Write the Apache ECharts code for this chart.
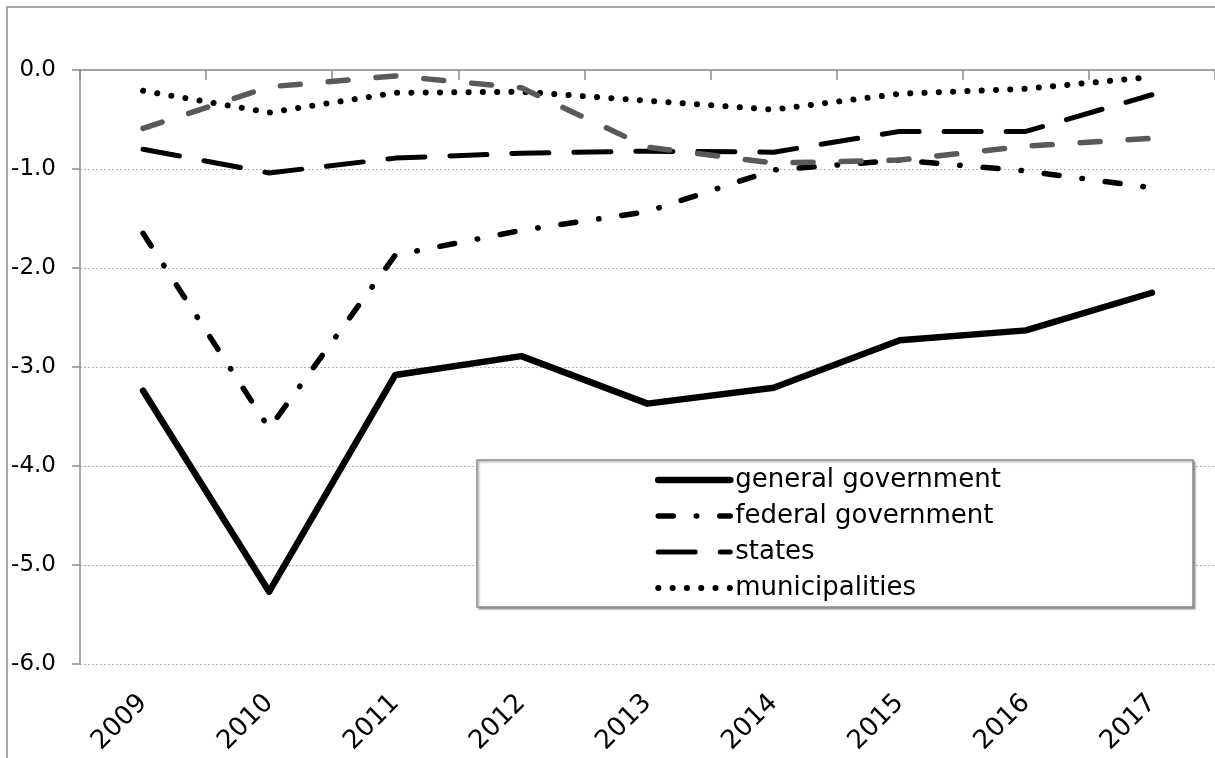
<!DOCTYPE html>
<html>
<head>
<meta charset="utf-8">
<title>Fiscal balance by level of government, 2009–2017</title>
<script src="https://cdn.jsdelivr.net/npm/echarts@6/dist/echarts.min.js"></script>
<style>
  html, body { margin: 0; padding: 0; background: #ffffff; }
  #chart { width: 1215px; height: 758px; }
</style>
</head>
<body>
<div id="chart"></div>
<script>
// Categories (years)
const years = ['2009', '2010', '2011', '2012', '2013', '2014', '2015', '2016', '2017'];

// Balances by level of government
const generalGovernment = [-3.24, -5.27, -3.08, -2.89, -3.37, -3.21, -2.73, -2.63, -2.25];
const federalGovernment = [-1.65, -3.62, -1.87, -1.62, -1.43, -1.01, -0.91, -1.02, -1.19];
const statesBalance     = [-0.80, -1.04, -0.89, -0.84, -0.82, -0.83, -0.62, -0.62, -0.25];
const municipalities    = [-0.21, -0.43, -0.23, -0.22, -0.31, -0.40, -0.24, -0.19, -0.07];
const socialSecurity    = [-0.59, -0.17, -0.06, -0.18, -0.78, -0.94, -0.91, -0.77, -0.69];

// Value axis range
const yMin = -6;
const yMax = 0;
const yStep = 1;

// Legend entries (the grey series is left out of the legend)
const legendNames = ['general government', 'federal government', 'states', 'municipalities'];

const FONT = 'DejaVu Sans';
const AXIS_GREY = '#8c8c8c';

const chart = echarts.init(document.getElementById('chart'));

function lineSeries(name, data, style) {
  return {
    name: name,
    type: 'line',
    data: data,
    xAxisIndex: 0,
    symbol: 'none',
    showSymbol: false,
    smooth: false,
    itemStyle: { color: style.color },
    lineStyle: Object.assign({ cap: 'round', join: 'round' }, style)
  };
}

chart.setOption({
  animation: false,
  backgroundColor: '#ffffff',
  grid: { left: 80, top: 70, width: 1137, height: 594, containLabel: false },
  xAxis: [
    {
      type: 'category',
      position: 'bottom',
      data: years,
      boundaryGap: true,
      axisLine: { show: false },
      axisTick: { show: false },
      axisLabel: {
        rotate: 45,
        margin: 35,
        color: '#000000',
        fontFamily: FONT,
        fontSize: 26
      },
      splitLine: { show: false }
    },
    {
      type: 'category',
      position: 'top',
      data: years,
      boundaryGap: true,
      axisLine: { show: true, onZero: false, lineStyle: { color: AXIS_GREY, width: 1.5 } },
      axisTick: { show: true, inside: true, length: 10, lineStyle: { color: AXIS_GREY, width: 1.5 } },
      axisLabel: { show: false },
      splitLine: { show: false }
    }
  ],
  yAxis: {
    type: 'value',
    min: yMin,
    max: yMax,
    interval: yStep,
    axisLine: { show: true, lineStyle: { color: AXIS_GREY, width: 1.5 } },
    axisTick: { show: true, inside: false, length: 8, lineStyle: { color: AXIS_GREY, width: 1.5 } },
    axisLabel: {
      margin: 24,
      color: '#000000',
      fontFamily: FONT,
      fontSize: 23,
      formatter: function (v) { return (Math.abs(v) < 1e-9 ? 0 : v).toFixed(1); }
    },
    splitLine: { show: true, lineStyle: { color: '#b4b4b4', width: 1, type: [2, 2] } }
  },
  legend: {
    data: legendNames,
    orient: 'vertical',
    left: 655,
    top: 467,
    padding: 0,
    itemWidth: 72,
    itemHeight: 14,
    itemGap: 10,
    z: 20,
    selectedMode: false,
    itemStyle: { opacity: 0 },
    lineStyle: { width: 'inherit' },
    textStyle: { color: '#000000', fontFamily: FONT, fontSize: 26 }
  },
  graphic: [
    {
      // outer chart frame
      type: 'rect',
      z: 0,
      silent: true,
      shape: { x: 7, y: 7, width: 1300, height: 900 },
      style: { fill: 'none', stroke: AXIS_GREY, lineWidth: 1.5 }
    },
    {
      // legend box
      type: 'rect',
      z: 10,
      silent: true,
      shape: { x: 477, y: 460, width: 716, height: 147 },
      style: {
        fill: '#ffffff',
        stroke: AXIS_GREY,
        lineWidth: 1.5,
        shadowColor: 'rgba(0,0,0,0.35)',
        shadowBlur: 2,
        shadowOffsetX: 1.5,
        shadowOffsetY: 1.5
      }
    }
  ],
  series: [
    lineSeries('general government', generalGovernment, { color: '#000000', width: 6.5, type: 'solid' }),
    lineSeries('federal government', federalGovernment, { color: '#000000', width: 5.5, type: [15, 23, 0.5, 23] }),
    lineSeries('states', statesBalance, { color: '#000000', width: 5, type: [37, 25] }),
    lineSeries('municipalities', municipalities, { color: '#000000', width: 6, type: [0.1, 14.2] }),
    lineSeries('social security', socialSecurity, { color: '#595959', width: 5.5, type: [20, 28] })
  ]
});
</script>
</body>
</html>
